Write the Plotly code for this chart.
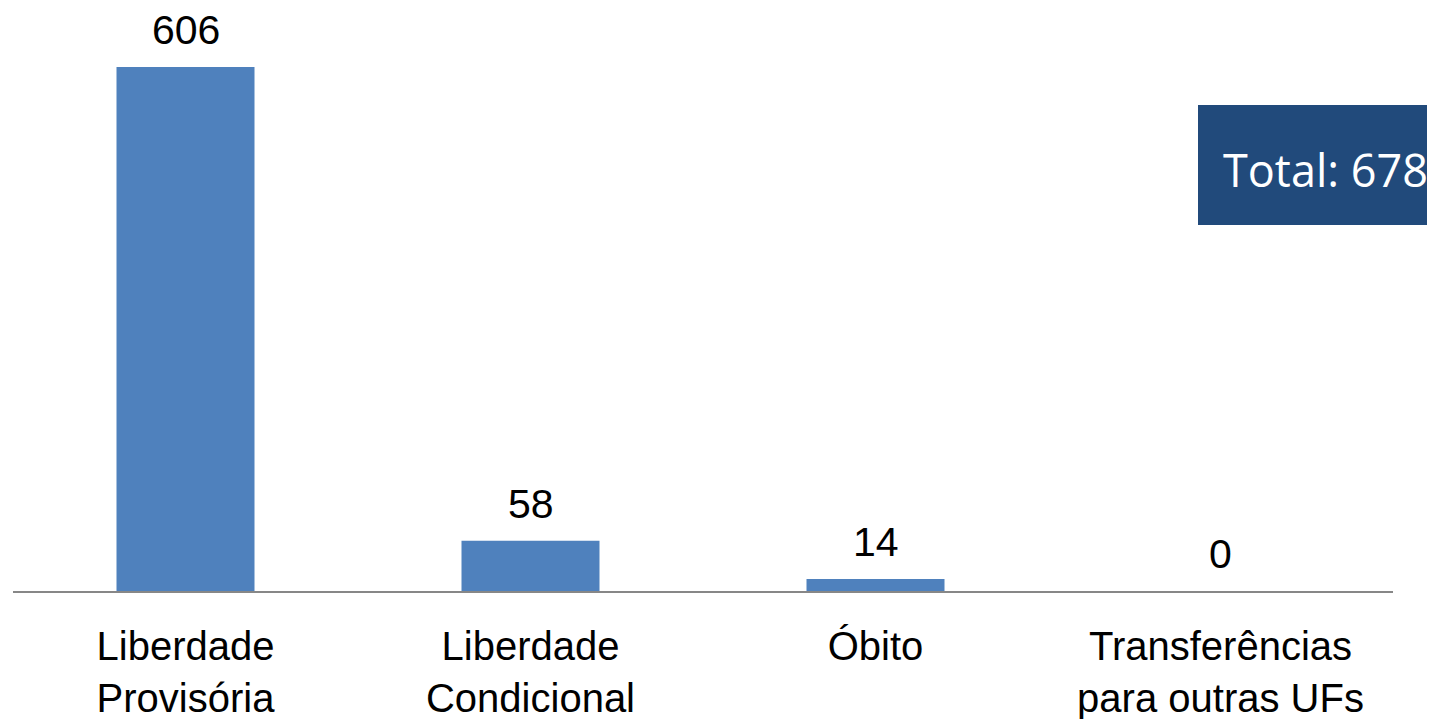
import plotly.graph_objects as go


# ==========================================================
# DATA
# ==========================================================

categories = [
    "Liberdade<br>Provisória",
    "Liberdade<br>Condicional",
    "Óbito",
    "Transferências<br>para outras UFs"
]

values = [606, 58, 14, 0]

total_label = "Total: 678"


# ==========================================================
# BAR CHART
# ==========================================================

fig = go.Figure()

fig.add_trace(
    go.Bar(
        x=categories,
        y=values,
        width=0.4,
        marker=dict(color="#4F81BD", line=dict(width=0)),
        showlegend=False
    )
)

# value labels above each bar
for cat, val in zip(categories, values):
    fig.add_annotation(
        x=cat,
        y=val,
        text=str(val),
        showarrow=False,
        yanchor="bottom",
        yshift=12,
        font=dict(family="Liberation Sans, Arial", size=41, color="#000000")
    )

# total box
fig.add_shape(
    type="rect",
    xref="paper",
    yref="paper",
    x0=0.8587,
    x1=1.06,
    y0=0.6278,
    y1=0.8336,
    fillcolor="#214A7B",
    line=dict(width=0),
    layer="above"
)

fig.add_annotation(
    xref="paper",
    yref="paper",
    x=0.9514,
    y=0.7237,
    text=total_label,
    showarrow=False,
    xanchor="center",
    yanchor="middle",
    font=dict(family="Open Sans, Noto Sans", size=45, color="#FFFFFF")
)

fig.update_layout(
    width=1435,
    height=719,
    margin=dict(l=5, r=50, t=0, b=136),
    plot_bgcolor="#FFFFFF",
    paper_bgcolor="#FFFFFF",
    bargap=0.6,
    font=dict(family="Liberation Sans, Arial", size=40, color="#000000")
)

fig.update_xaxes(
    showline=True,
    linecolor="#878787",
    linewidth=2,
    showgrid=False,
    ticks="",
    ticklabelstandoff=19,
    tickfont=dict(family="Liberation Sans, Arial", size=40, color="#000000"),
    automargin=False
)

fig.update_yaxes(
    range=[0, 674.2],
    visible=False,
    showgrid=False,
    zeroline=False,
    automargin=False
)

fig.write_html("out.html")
